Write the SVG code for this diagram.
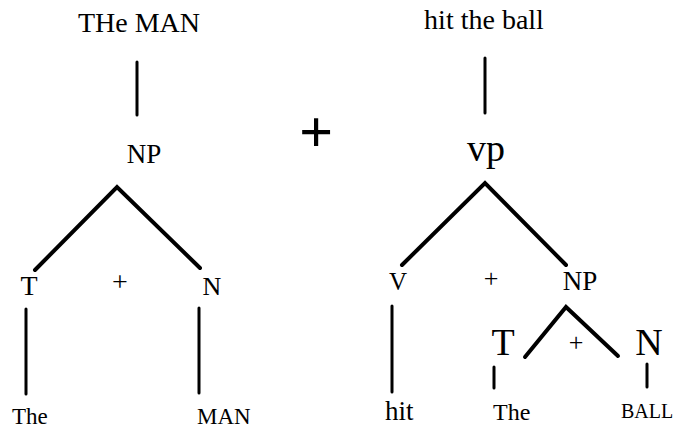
<svg xmlns="http://www.w3.org/2000/svg" width="680" height="430" viewBox="0 0 680 430">
<style>
.c{text-anchor:middle}
.e{stroke:#000;fill:none;stroke-linecap:round;stroke-linejoin:miter}
.t{stroke-width:4}
.m{stroke-width:3}
</style>
<rect width="680" height="430" fill="#fff"/>
<g id="connectors">
<line class="e m" x1="137" y1="62" x2="137" y2="115"/>
<polyline class="e t" points="35,270 117,187 200,268"/>
<line class="e m" x1="26" y1="309" x2="26" y2="394"/>
<line class="e m" x1="199" y1="308" x2="199" y2="393"/>
<line class="e m" x1="485" y1="58" x2="485" y2="113"/>
<polyline class="e t" points="402,265 485,183 566,265"/>
<line class="e m" x1="392" y1="306" x2="392" y2="392"/>
<polyline class="e t" points="525,357 566,307 618,356"/>
<line class="e m" x1="494" y1="367" x2="494" y2="388"/>
<line class="e m" x1="647" y1="364" x2="647" y2="387"/>
</g>
<g font-family="Liberation Serif, DejaVu Serif, serif" fill="#000">
<g id="the-man"><text class="c" x="139" y="32" font-size="28">THe MAN</text></g>
<g id="np-left"><text class="c" x="144" y="163" font-size="27">NP</text></g>
<g id="t-left"><text class="c" x="29" y="295" font-size="28">T</text></g>
<g id="plus-left"><text class="c" x="120" y="291" font-size="28">+</text></g>
<g id="n-left"><text class="c" x="212" y="295" font-size="26">N</text></g>
<g id="the-left"><text x="12" y="424" font-size="23">The</text></g>
<g id="man"><text x="197" y="424" font-size="23">MAN</text></g>
<g id="plus-big"><text class="c" x="316" y="152" font-size="60" font-weight="bold">+</text></g>
<g id="hit-the-ball"><text class="c" x="484" y="29" font-size="28">hit the ball</text></g>
<g id="vp"><text class="c" x="486" y="161" font-size="38">vp</text></g>
<g id="v"><text class="c" x="398" y="290" font-size="25">V</text></g>
<g id="plus-vp"><text class="c" x="491" y="287" font-size="26">+</text></g>
<g id="np-right"><text class="c" x="580" y="290" font-size="27">NP</text></g>
<g id="t-right"><text class="c" x="503" y="355" font-size="38">T</text></g>
<g id="plus-np"><text class="c" x="576" y="351" font-size="26">+</text></g>
<g id="n-right"><text class="c" x="649" y="355" font-size="38">N</text></g>
<g id="hit"><text x="385" y="420" font-size="27">hit</text></g>
<g id="the-right"><text x="493" y="420" font-size="24">The</text></g>
<g id="ball"><text x="621" y="418" font-size="20">BALL</text></g>
</g>
</svg>
